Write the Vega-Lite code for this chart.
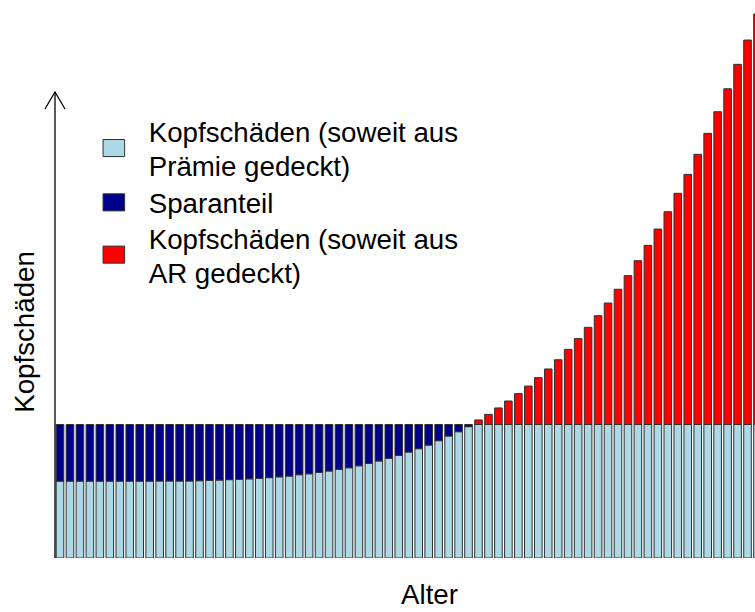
{
  "$schema": "https://vega.github.io/schema/vega-lite/v6.json",
  "width": 700,
  "height": 558,
  "autosize": "none",
  "padding": {"left": 55, "top": 0, "right": 0, "bottom": 54},
  "background": "white",
  "config": {"view": {"stroke": null}, "font": "Liberation Sans"},
  "datasets": {
    "teile": [
      {"Teil": "Praemie", "Rang": 1},
      {"Teil": "Sparanteil", "Rang": 2},
      {"Teil": "AR", "Rang": 3}
    ],
    "werte": [
      {"Alter": 20, "Praemie": 57.6, "Sparanteil": 42.4, "AR": 0},
      {"Alter": 21, "Praemie": 57.6, "Sparanteil": 42.4, "AR": 0},
      {"Alter": 22, "Praemie": 57.6, "Sparanteil": 42.4, "AR": 0},
      {"Alter": 23, "Praemie": 57.6, "Sparanteil": 42.4, "AR": 0},
      {"Alter": 24, "Praemie": 57.6, "Sparanteil": 42.4, "AR": 0},
      {"Alter": 25, "Praemie": 57.6, "Sparanteil": 42.4, "AR": 0},
      {"Alter": 26, "Praemie": 57.6, "Sparanteil": 42.4, "AR": 0},
      {"Alter": 27, "Praemie": 57.6, "Sparanteil": 42.4, "AR": 0},
      {"Alter": 28, "Praemie": 57.6, "Sparanteil": 42.4, "AR": 0},
      {"Alter": 29, "Praemie": 57.6, "Sparanteil": 42.4, "AR": 0},
      {"Alter": 30, "Praemie": 57.7, "Sparanteil": 42.3, "AR": 0},
      {"Alter": 31, "Praemie": 57.7, "Sparanteil": 42.3, "AR": 0},
      {"Alter": 32, "Praemie": 57.7, "Sparanteil": 42.3, "AR": 0},
      {"Alter": 33, "Praemie": 57.7, "Sparanteil": 42.3, "AR": 0},
      {"Alter": 34, "Praemie": 57.9, "Sparanteil": 42.1, "AR": 0},
      {"Alter": 35, "Praemie": 58.2, "Sparanteil": 41.8, "AR": 0},
      {"Alter": 36, "Praemie": 58.4, "Sparanteil": 41.6, "AR": 0},
      {"Alter": 37, "Praemie": 58.7, "Sparanteil": 41.3, "AR": 0},
      {"Alter": 38, "Praemie": 59.0, "Sparanteil": 41.0, "AR": 0},
      {"Alter": 39, "Praemie": 59.3, "Sparanteil": 40.7, "AR": 0},
      {"Alter": 40, "Praemie": 59.7, "Sparanteil": 40.3, "AR": 0},
      {"Alter": 41, "Praemie": 60.2, "Sparanteil": 39.8, "AR": 0},
      {"Alter": 42, "Praemie": 60.8, "Sparanteil": 39.2, "AR": 0},
      {"Alter": 43, "Praemie": 61.4, "Sparanteil": 38.6, "AR": 0},
      {"Alter": 44, "Praemie": 62.4, "Sparanteil": 37.6, "AR": 0},
      {"Alter": 45, "Praemie": 63.1, "Sparanteil": 36.9, "AR": 0},
      {"Alter": 46, "Praemie": 64.2, "Sparanteil": 35.8, "AR": 0},
      {"Alter": 47, "Praemie": 65.2, "Sparanteil": 34.8, "AR": 0},
      {"Alter": 48, "Praemie": 66.4, "Sparanteil": 33.6, "AR": 0},
      {"Alter": 49, "Praemie": 67.6, "Sparanteil": 32.4, "AR": 0},
      {"Alter": 50, "Praemie": 69.1, "Sparanteil": 30.9, "AR": 0},
      {"Alter": 51, "Praemie": 70.9, "Sparanteil": 29.1, "AR": 0},
      {"Alter": 52, "Praemie": 72.7, "Sparanteil": 27.3, "AR": 0},
      {"Alter": 53, "Praemie": 74.7, "Sparanteil": 25.3, "AR": 0},
      {"Alter": 54, "Praemie": 76.9, "Sparanteil": 23.1, "AR": 0},
      {"Alter": 55, "Praemie": 79.4, "Sparanteil": 20.6, "AR": 0},
      {"Alter": 56, "Praemie": 81.9, "Sparanteil": 18.1, "AR": 0},
      {"Alter": 57, "Praemie": 84.6, "Sparanteil": 15.4, "AR": 0},
      {"Alter": 58, "Praemie": 87.9, "Sparanteil": 12.1, "AR": 0},
      {"Alter": 59, "Praemie": 91.4, "Sparanteil": 8.6, "AR": 0},
      {"Alter": 60, "Praemie": 94.6, "Sparanteil": 5.4, "AR": 0},
      {"Alter": 61, "Praemie": 98.4, "Sparanteil": 1.6, "AR": 0},
      {"Alter": 62, "Praemie": 100, "Sparanteil": 0, "AR": 3.4},
      {"Alter": 63, "Praemie": 100, "Sparanteil": 0, "AR": 7.6},
      {"Alter": 64, "Praemie": 100, "Sparanteil": 0, "AR": 12.4},
      {"Alter": 65, "Praemie": 100, "Sparanteil": 0, "AR": 17.6},
      {"Alter": 66, "Praemie": 100, "Sparanteil": 0, "AR": 23.1},
      {"Alter": 67, "Praemie": 100, "Sparanteil": 0, "AR": 28.8},
      {"Alter": 68, "Praemie": 100, "Sparanteil": 0, "AR": 35.1},
      {"Alter": 69, "Praemie": 100, "Sparanteil": 0, "AR": 41.6},
      {"Alter": 70, "Praemie": 100, "Sparanteil": 0, "AR": 48.5},
      {"Alter": 71, "Praemie": 100, "Sparanteil": 0, "AR": 56.3},
      {"Alter": 72, "Praemie": 100, "Sparanteil": 0, "AR": 64.3},
      {"Alter": 73, "Praemie": 100, "Sparanteil": 0, "AR": 72.8},
      {"Alter": 74, "Praemie": 100, "Sparanteil": 0, "AR": 81.5},
      {"Alter": 75, "Praemie": 100, "Sparanteil": 0, "AR": 91.0},
      {"Alter": 76, "Praemie": 100, "Sparanteil": 0, "AR": 101.3},
      {"Alter": 77, "Praemie": 100, "Sparanteil": 0, "AR": 111.5},
      {"Alter": 78, "Praemie": 100, "Sparanteil": 0, "AR": 122.7},
      {"Alter": 79, "Praemie": 100, "Sparanteil": 0, "AR": 134.2},
      {"Alter": 80, "Praemie": 100, "Sparanteil": 0, "AR": 146.4},
      {"Alter": 81, "Praemie": 100, "Sparanteil": 0, "AR": 159.4},
      {"Alter": 82, "Praemie": 100, "Sparanteil": 0, "AR": 173.2},
      {"Alter": 83, "Praemie": 100, "Sparanteil": 0, "AR": 187.4},
      {"Alter": 84, "Praemie": 100, "Sparanteil": 0, "AR": 202.4},
      {"Alter": 85, "Praemie": 100, "Sparanteil": 0, "AR": 218.1},
      {"Alter": 86, "Praemie": 100, "Sparanteil": 0, "AR": 234.3},
      {"Alter": 87, "Praemie": 100, "Sparanteil": 0, "AR": 251.5},
      {"Alter": 88, "Praemie": 100, "Sparanteil": 0, "AR": 269.8},
      {"Alter": 89, "Praemie": 100, "Sparanteil": 0, "AR": 288.0},
      {"Alter": 90, "Praemie": 100, "Sparanteil": 0, "AR": 307.5}
    ]
  },
  "layer": [
    {
      "data": {"name": "werte"},
      "transform": [
        {"fold": ["Praemie", "Sparanteil", "AR"], "as": ["Teil", "Wert"]},
        {"filter": "datum.Wert > 0"},
        {"lookup": "Teil", "from": {"data": {"name": "teile"}, "key": "Teil", "fields": ["Rang"]}}
      ],
      "mark": {"type": "bar", "size": 7.6, "stroke": "#303030", "strokeWidth": 1, "clip": true},
      "encoding": {
        "x": {
          "field": "Alter", "type": "quantitative",
          "scale": {"domain": [19.498, 89.75], "nice": false, "zero": false, "padding": 0},
          "axis": {"title": "Alter", "domain": false, "ticks": false, "labels": false, "grid": false,
                   "titleFontSize": 27.7, "titleFontWeight": "normal", "titleFont": "Liberation Sans", "titleColor": "black",
                   "titleX": 374, "titleY": 45.3, "titleBaseline": "alphabetic", "titleAlign": "center"}
        },
        "y": {
          "field": "Wert", "type": "quantitative", "stack": "zero",
          "scale": {"domain": [0, 418], "nice": false, "zero": true},
          "axis": {"title": "Kopfschäden", "domain": false, "ticks": false, "labels": false, "grid": false,
                   "titleFontSize": 27.7, "titleFontWeight": "normal", "titleFont": "Liberation Sans", "titleColor": "black",
                   "titleX": -22, "titleY": 331.5, "titleAngle": -90, "titleBaseline": "alphabetic", "titleAlign": "center"}
        },
        "color": {
          "field": "Teil", "type": "nominal",
          "scale": {"domain": ["Praemie", "Sparanteil", "AR"], "range": ["#ADD8E6", "#00008B", "#FF0000"]},
          "legend": {
            "orient": "none", "legendX": 45, "legendY": 134.2, "title": null, "padding": 0,
            "labelFontSize": 27.7, "labelFont": "Liberation Sans", "labelColor": "black", "labelLimit": 0,
            "labelOffset": 21, "rowPadding": 6.3,
            "symbolType": "M-1,-0.79H1V0.79H-1Z", "symbolSize": 466, "symbolStrokeColor": "#303030",
            "symbolStrokeWidth": 1, "symbolOpacity": 1,
            "labelExpr": "datum.label == 'Praemie' ? ['Kopfschäden (soweit aus', 'Prämie gedeckt)'] : datum.label == 'AR' ? ['Kopfschäden (soweit aus', 'AR gedeckt)'] : 'Sparanteil'",
            "encode": {
              "labels": {
                "update": {
                  "lineHeight": {"value": 34},
                  "dy": {"signal": "datum.value == 'Sparanteil' ? 2.5 : -14"}
                }
              }
            }
          }
        },
        "order": {"field": "Rang", "type": "quantitative", "sort": "ascending"}
      }
    },
    {
      "data": {"values": [{}]},
      "mark": {"type": "rule", "stroke": "black", "strokeWidth": 1.3},
      "encoding": {
        "x": {"datum": 19.498, "type": "quantitative"},
        "y": {"datum": 0, "type": "quantitative"},
        "y2": {"datum": 349.1}
      }
    },
    {
      "data": {"values": [{}]},
      "mark": {"type": "point", "shape": "M-0.59,1L0,0L0.59,1", "filled": false, "stroke": "black", "strokeWidth": 1.3, "size": 1156, "opacity": 1},
      "encoding": {
        "x": {"datum": 19.498, "type": "quantitative"},
        "y": {"datum": 349.1, "type": "quantitative"}
      }
    }
  ]
}
